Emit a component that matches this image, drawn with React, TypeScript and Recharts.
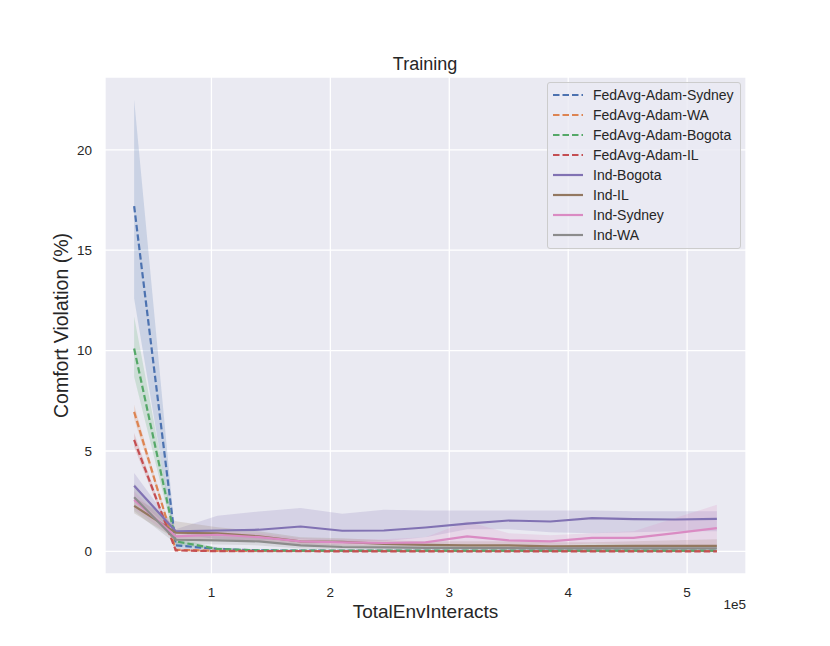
import React from "react";
import {
  Area,
  CartesianGrid,
  ComposedChart,
  Label,
  Legend,
  Line,
  XAxis,
  YAxis,
} from "recharts";

const steps = [
  35000, 70000, 105000, 140000, 175000, 210000, 245000, 280000, 315000, 350000,
  385000, 420000, 455000, 490000, 525000,
];

const xTicks = [100000, 200000, 300000, 400000, 500000];
const yTicks = [0, 5, 10, 15, 20];

// FedAvg runs (dashed)
const fedSydneyMean = [17.2, 0.3, 0.12, 0.05, 0.04, 0.03, 0.03, 0.03, 0.03, 0.03, 0.03, 0.03, 0.03, 0.03, 0.03];
const fedSydneyLo = [12.6, 0.15, 0.05, 0.02, 0.01, 0.01, 0.01, 0.01, 0.01, 0.01, 0.01, 0.01, 0.01, 0.01, 0.01];
const fedSydneyHi = [22.5, 0.45, 0.2, 0.08, 0.07, 0.06, 0.05, 0.05, 0.05, 0.05, 0.05, 0.05, 0.05, 0.05, 0.05];

const fedWaMean = [6.95, 0.08, 0.03, 0.02, 0.02, 0.02, 0.02, 0.02, 0.02, 0.02, 0.02, 0.02, 0.02, 0.02, 0.02];
const fedWaLo = [6.6, 0.04, 0.01, 0.0, 0.0, 0.0, 0.0, 0.0, 0.0, 0.0, 0.0, 0.0, 0.0, 0.0, 0.0];
const fedWaHi = [7.3, 0.12, 0.05, 0.04, 0.04, 0.04, 0.04, 0.04, 0.04, 0.04, 0.04, 0.04, 0.04, 0.04, 0.04];

const fedBogotaMean = [10.1, 0.5, 0.12, 0.05, 0.04, 0.04, 0.04, 0.04, 0.04, 0.04, 0.04, 0.04, 0.04, 0.04, 0.04];
const fedBogotaLo = [8.7, 0.35, 0.06, 0.02, 0.01, 0.01, 0.01, 0.01, 0.01, 0.01, 0.01, 0.01, 0.01, 0.01, 0.01];
const fedBogotaHi = [11.7, 0.65, 0.2, 0.08, 0.07, 0.07, 0.07, 0.07, 0.07, 0.07, 0.07, 0.07, 0.07, 0.07, 0.07];

const fedIlMean = [5.55, 0.05, 0.01, 0.01, 0.01, 0.0, 0.0, 0.0, 0.0, 0.0, 0.0, 0.0, 0.0, 0.0, 0.0];
const fedIlLo = [5.2, 0.02, 0.0, 0.0, 0.0, 0.0, 0.0, 0.0, 0.0, 0.0, 0.0, 0.0, 0.0, 0.0, 0.0];
const fedIlHi = [5.9, 0.08, 0.03, 0.02, 0.02, 0.01, 0.01, 0.01, 0.01, 0.01, 0.01, 0.01, 0.01, 0.01, 0.01];

// independent runs (solid)
const indBogotaMean = [3.27, 1.0, 1.04, 1.08, 1.24, 1.03, 1.04, 1.19, 1.38, 1.54, 1.49, 1.66, 1.61, 1.59, 1.62];
const indBogotaLo = [2.7, 0.9, 0.6, 0.55, 0.6, 0.5, 0.5, 0.7, 1.1, 1.1, 0.95, 0.9, 0.95, 1.0, 1.0];
const indBogotaHi = [3.9, 1.1, 1.77, 1.99, 2.16, 1.87, 2.07, 2.04, 2.04, 2.04, 2.04, 2.04, 2.0, 2.0, 2.0];

const indIlMean = [2.27, 0.93, 0.9, 0.75, 0.5, 0.47, 0.38, 0.33, 0.3, 0.3, 0.25, 0.26, 0.28, 0.28, 0.28];
const indIlLo = [1.9, 0.6, 0.6, 0.5, 0.3, 0.25, 0.2, 0.15, 0.15, 0.12, 0.1, 0.1, 0.1, 0.1, 0.1];
const indIlHi = [2.7, 1.5, 1.2, 1.0, 0.7, 0.65, 0.55, 0.5, 0.5, 0.5, 0.45, 0.45, 0.5, 0.55, 0.6];

const indSydneyMean = [2.57, 0.75, 0.83, 0.71, 0.5, 0.45, 0.42, 0.45, 0.75, 0.55, 0.5, 0.67, 0.67, 0.91, 1.16];
const indSydneyLo = [2.1, 0.6, 0.65, 0.5, 0.35, 0.3, 0.3, 0.3, 0.3, 0.3, 0.3, 0.4, 0.35, 0.3, 0.3];
const indSydneyHi = [3.0, 0.9, 1.0, 0.9, 0.65, 0.6, 0.6, 0.7, 1.49, 0.9, 0.8, 0.9, 1.0, 1.66, 2.32];

const indWaMean = [2.7, 0.58, 0.55, 0.5, 0.3, 0.22, 0.2, 0.18, 0.17, 0.16, 0.15, 0.15, 0.15, 0.15, 0.15];
const indWaLo = [2.0, 0.4, 0.35, 0.3, 0.15, 0.1, 0.08, 0.07, 0.06, 0.05, 0.05, 0.05, 0.05, 0.05, 0.05];
const indWaHi = [3.4, 0.8, 0.75, 0.7, 0.45, 0.35, 0.3, 0.28, 0.27, 0.26, 0.25, 0.25, 0.25, 0.25, 0.25];

const series = [
  { name: "FedAvg-Adam-Sydney", color: "#4c72b0", dashed: true, mean: fedSydneyMean, lo: fedSydneyLo, hi: fedSydneyHi },
  { name: "FedAvg-Adam-WA", color: "#dd8452", dashed: true, mean: fedWaMean, lo: fedWaLo, hi: fedWaHi },
  { name: "FedAvg-Adam-Bogota", color: "#55a868", dashed: true, mean: fedBogotaMean, lo: fedBogotaLo, hi: fedBogotaHi },
  { name: "FedAvg-Adam-IL", color: "#c44e52", dashed: true, mean: fedIlMean, lo: fedIlLo, hi: fedIlHi },
  { name: "Ind-Bogota", color: "#8172b3", dashed: false, mean: indBogotaMean, lo: indBogotaLo, hi: indBogotaHi },
  { name: "Ind-IL", color: "#937860", dashed: false, mean: indIlMean, lo: indIlLo, hi: indIlHi },
  { name: "Ind-Sydney", color: "#da8bc3", dashed: false, mean: indSydneyMean, lo: indSydneyLo, hi: indSydneyHi },
  { name: "Ind-WA", color: "#8c8c8c", dashed: false, mean: indWaMean, lo: indWaLo, hi: indWaHi },
];

const data = steps.map((x, i) => {
  const row: Record<string, any> = { x };
  series.forEach((s, k) => {
    row[`m${k}`] = s.mean[i];
    row[`b${k}`] = [s.lo[i], s.hi[i]];
  });
  return row;
});

const FONT = "'Liberation Sans', Arial, sans-serif";
const INK = "#262626";
const DASH = "6.5 3";
const LW = 2.2;

function LegendBox() {
  return (
    <div
      style={{
        background: "rgba(234,234,242,0.8)",
        border: "1px solid #cccccc",
        borderRadius: 3,
        padding: "2px 6px 3px 5px",
        fontFamily: FONT,
        fontSize: 14,
        color: INK,
      }}
    >
      {series.map((s) => (
        <div key={s.name} style={{ display: "flex", alignItems: "center", height: 20 }}>
          <svg width={30} height={6} style={{ marginRight: 10 }}>
            <line
              x1={0}
              y1={3}
              x2={30}
              y2={3}
              stroke={s.color}
              strokeWidth={LW}
              strokeDasharray={s.dashed ? DASH : undefined}
            />
          </svg>
          <span>{s.name}</span>
        </div>
      ))}
    </div>
  );
}

export default function App() {
  return (
    <div style={{ position: "absolute", left: 0, top: 0, width: 830, height: 646, background: "#fff" }}>
      <ComposedChart
        width={830}
        height={646}
        data={data}
        margin={{ top: 77, right: 84, bottom: 0, left: 0 }}
      >
        <CartesianGrid fill="#eaeaf2" stroke="#ffffff" strokeWidth={1.3} />
        <XAxis
          dataKey="x"
          type="number"
          domain={[10500, 549500]}
          ticks={xTicks}
          tickFormatter={(v) => `${v / 100000}`}
          height={72}
          axisLine={false}
          tickLine={false}
          tickSize={0}
          tickMargin={13}
          tick={{ fontSize: 13.5, fill: INK, fontFamily: FONT }}
        >
          <Label
            value="TotalEnvInteracts"
            position="insideTop"
            offset={31}
            style={{ fontSize: 19, fill: INK, fontFamily: FONT }}
          />
        </XAxis>
        <YAxis
          type="number"
          domain={[-1.125, 23.625]}
          ticks={yTicks}
          width={105}
          axisLine={false}
          tickLine={false}
          tickSize={0}
          tickMargin={13}
          tick={{ fontSize: 13.5, fill: INK, fontFamily: FONT }}
        >
          <Label
            value="Comfort Violation (%)"
            angle={-90}
            position="insideLeft"
            offset={61}
            style={{ fontSize: 19.5, fill: INK, fontFamily: FONT, textAnchor: "middle" }}
          />
        </YAxis>
        {series.map((s, k) => [
          <Area
            key={`a${k}`}
            type="linear"
            dataKey={`b${k}`}
            stroke="none"
            fill={s.color}
            fillOpacity={0.2}
            legendType="none"
            isAnimationActive={false}
            activeDot={false}
          />,
          <Line
            key={`l${k}`}
            type="linear"
            dataKey={`m${k}`}
            name={s.name}
            stroke={s.color}
            strokeWidth={LW}
            strokeDasharray={s.dashed ? DASH : undefined}
            dot={false}
            activeDot={false}
            isAnimationActive={false}
          />,
        ])}
        <Legend
          layout="vertical"
          align="center"
          verticalAlign="middle"
          content={() => <LegendBox />}
          wrapperStyle={{ top: 82, left: 547, width: 194 }}
        />
      </ComposedChart>
      <svg
        width={830}
        height={646}
        style={{ position: "absolute", left: 0, top: 0, pointerEvents: "none" }}
      >
        <text x={425} y={70} textAnchor="middle" fontSize={18} fill={INK} fontFamily={FONT}>
          Training
        </text>
        <text x={746} y={609} textAnchor="end" fontSize={13.5} fill={INK} fontFamily={FONT}>
          1e5
        </text>
      </svg>
    </div>
  );
}
